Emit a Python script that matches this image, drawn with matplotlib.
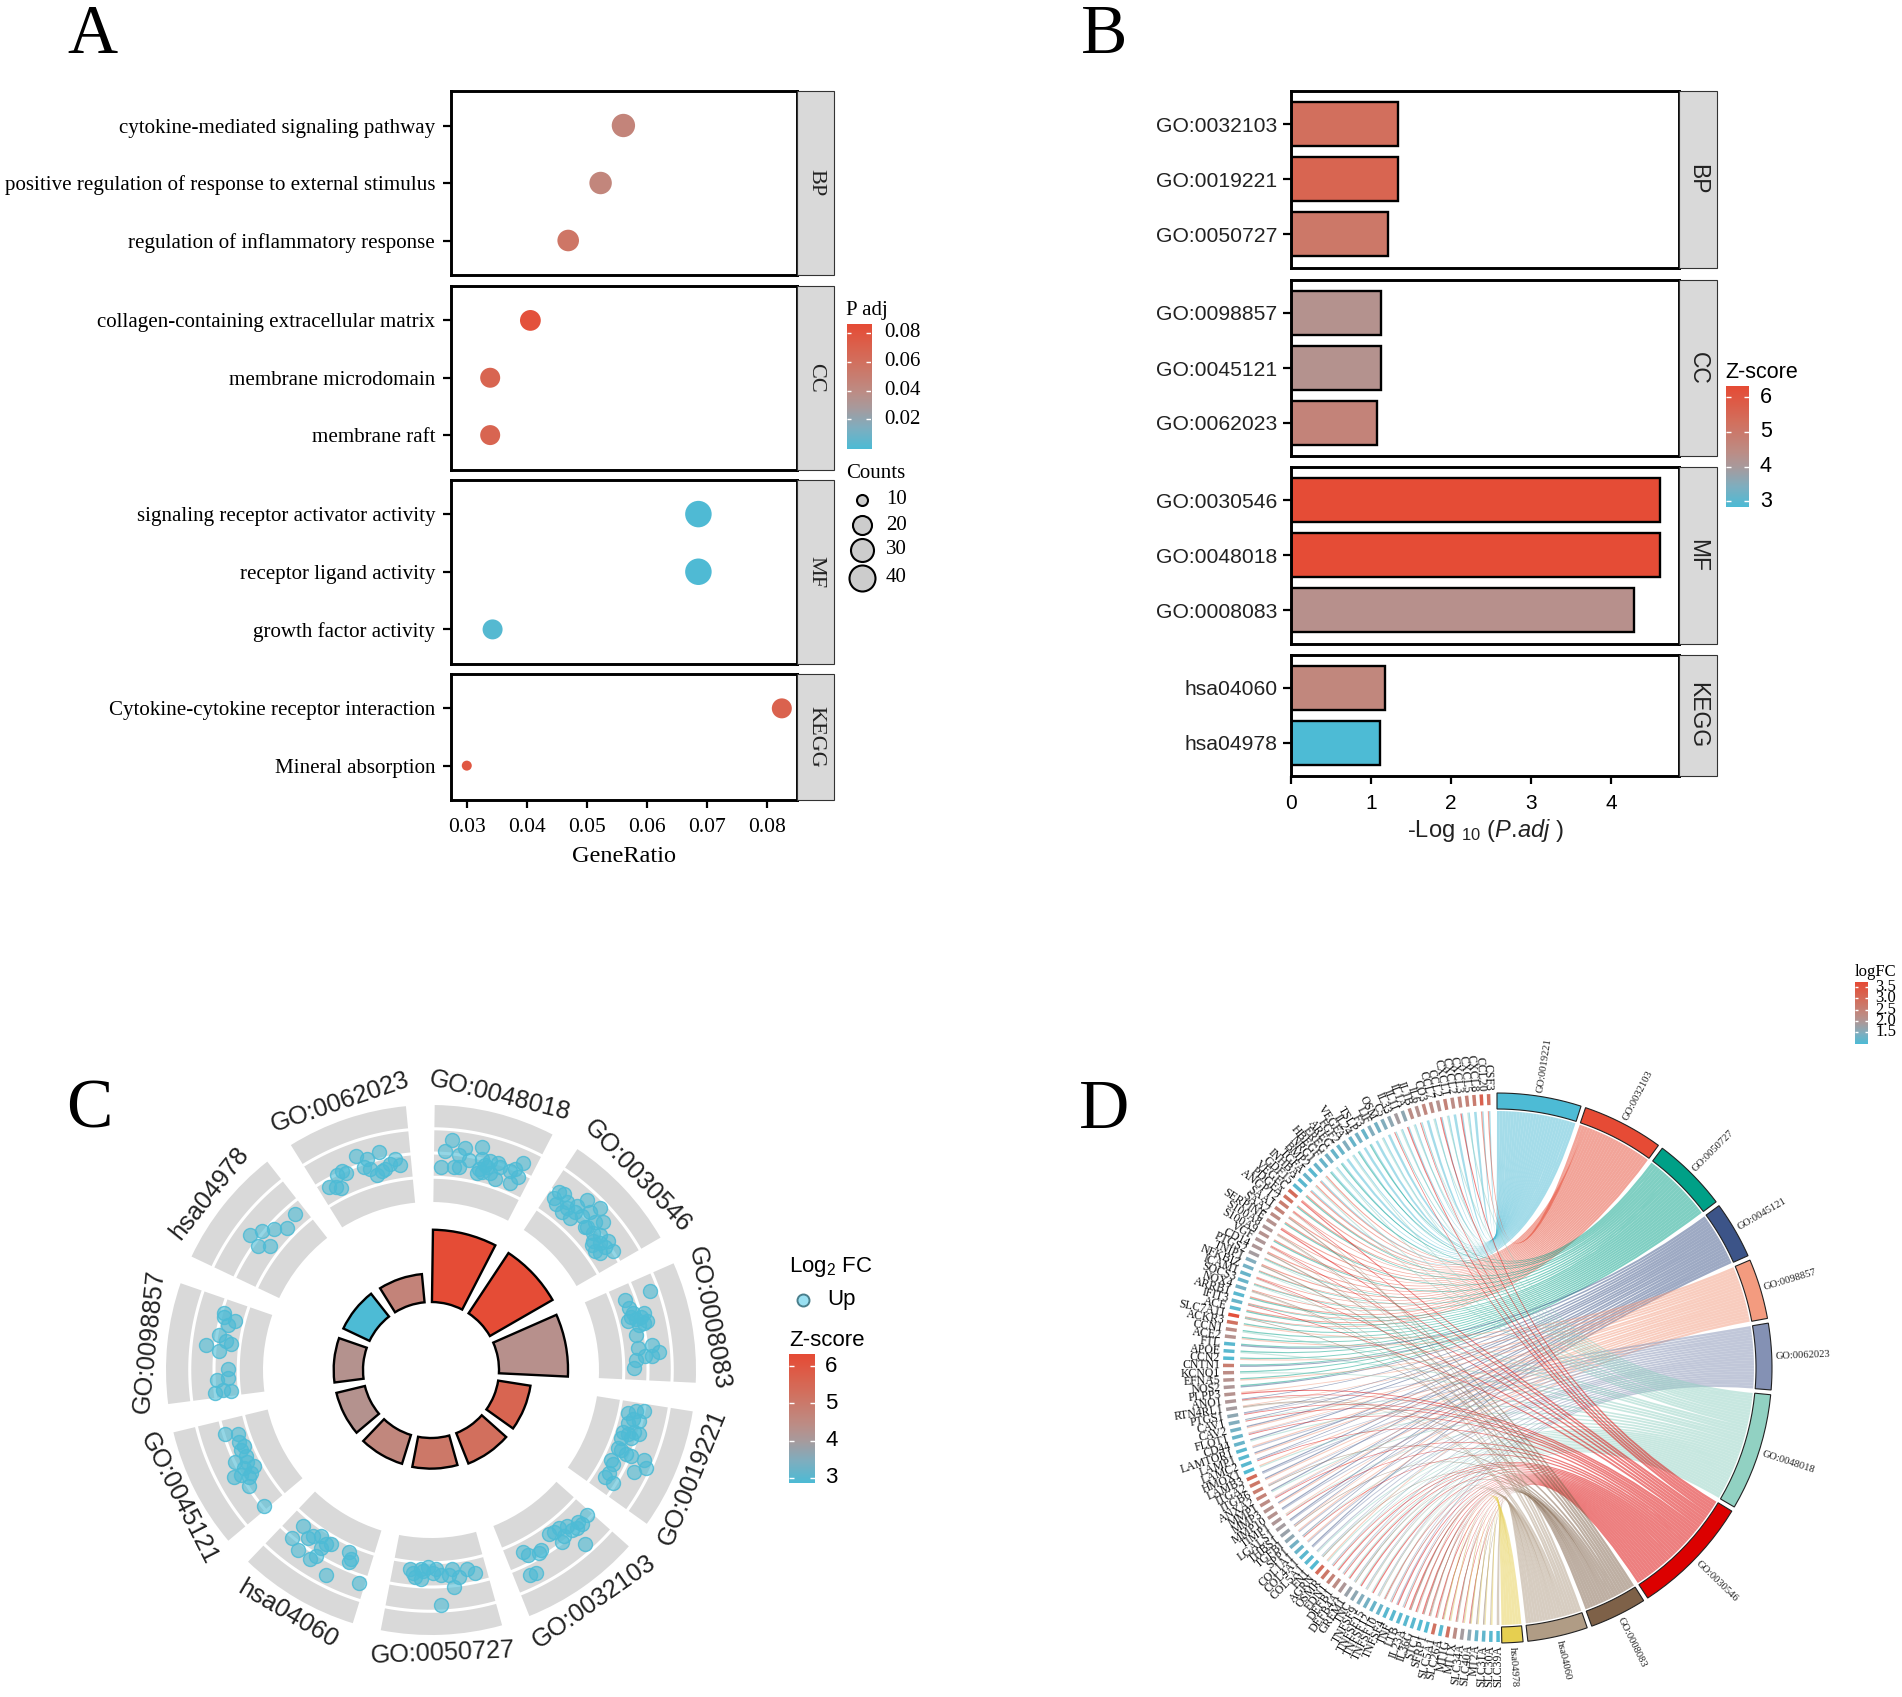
import numpy as np
import matplotlib
matplotlib.use("Agg")
import matplotlib.pyplot as plt
from matplotlib.colors import LinearSegmentedColormap
from matplotlib.patches import Rectangle, Polygon, PathPatch
from matplotlib.path import Path

W, H = 1902, 1697
SERIF = "Liberation Serif"
SANS = "Liberation Sans"

plt.rcParams["font.family"] = [SANS, "DejaVu Sans"]
plt.rcParams["mathtext.fontset"] = "custom"
plt.rcParams["mathtext.rm"] = SANS
plt.rcParams["mathtext.it"] = SANS + ":italic"
plt.rcParams["mathtext.default"] = "regular"

# panel A
a_facets = ["BP", "CC", "MF", "KEGG"]
a_terms = [
    ["cytokine-mediated signaling pathway", "positive regulation of response to external stimulus",
     "regulation of inflammatory response"],
    ["collagen-containing extracellular matrix", "membrane microdomain", "membrane raft"],
    ["signaling receptor activator activity", "receptor ligand activity", "growth factor activity"],
    ["Cytokine-cytokine receptor interaction", "Mineral absorption"],
]
a_ratio = [[0.0561, 0.0523, 0.0469], [0.0406, 0.0339, 0.0339], [0.0686, 0.0686, 0.0343], [0.0825, 0.0300]]
a_padj = [[0.045, 0.044, 0.056], [0.082, 0.068, 0.068], [0.0003, 0.0003, 0.002], [0.070, 0.078]]
a_count = [[33, 31, 28], [24, 20, 20], [40, 40, 20], [20, 7]]
a_xticks = [0.03, 0.04, 0.05, 0.06, 0.07, 0.08]

# panel B
b_ids = [["GO:0032103", "GO:0019221", "GO:0050727"], ["GO:0098857", "GO:0045121", "GO:0062023"],
         ["GO:0030546", "GO:0048018", "GO:0008083"], ["hsa04060", "hsa04978"]]
b_logp = [[1.34, 1.34, 1.21], [1.13, 1.13, 1.07], [4.61, 4.61, 4.29], [1.18, 1.11]]
b_z = [[5.3, 5.6, 5.05], [4.25, 4.25, 4.7], [6.3, 6.3, 4.3], [4.6, 2.83]]

# panel C, clockwise from the top
c_terms = ["GO:0048018", "GO:0030546", "GO:0008083", "GO:0019221", "GO:0032103", "GO:0050727",
           "hsa04060", "GO:0045121", "GO:0098857", "hsa04978", "GO:0062023"]
c_logp = [4.61, 4.61, 4.29, 1.34, 1.34, 1.21, 1.18, 1.13, 1.13, 1.11, 1.07]
c_z = [6.3, 6.3, 4.3, 5.6, 5.3, 5.05, 4.6, 4.25, 4.25, 2.83, 4.7]
c_theta = [
    [5.1, 3.6, 8.7, 12.9, 2.8, 6.5, 7.9, 10.4, 13.6, 15.8, 17.9, 13.4, 14.5, 16.7, 18.5, 23, 24.3, 24, 22.8, 21.8,
     14.7, 13.1, 18.8, 15.5, 7.4],
    [35.7, 35.6, 37, 37, 39, 39.7, 42.3, 42.3, 42.5, 46.2, 45.2, 44.4, 48, 49.4, 49.7, 47, 51.4, 53, 53.9, 54, 56.8,
     51.4, 41.7, 40, 47.4, 55.3, 54.7, 52.3],
    [70.2, 70.2, 72.7, 75.2, 75, 76, 76, 77.6, 77.8, 80.3, 83.8, 83.5, 86.2, 85.6, 86.4, 87.2, 89.4, 75.8, 77.2, 74.2],
    [100.9, 101.3, 102.3, 103.6, 105, 103.8, 107.8, 106.9, 107, 107.9, 109.6, 112.6, 113.3, 113.3, 112.9, 114.5,
     116.8, 116.6, 120, 121.8, 112.8, 108.7, 117.3, 121.5],
    [132.9, 135.6, 136, 139, 141, 144.3, 138.6, 141.3, 138.5, 149.5, 153.2, 152.2, 148.6, 152.7, 154.2, 142.7, 137.3,
     142.8],
    [185.9, 184.3, 182.8, 180.8, 179.3, 177.2, 174.1, 172.3, 169.8, 167.9, 174, 177.5, 182.2, 185, 178.6, 175, 182.9],
    [219.4, 219.5, 216.5, 215.4, 213.5, 209.9, 211.7, 211.7, 212.6, 204.2, 202.9, 203, 207.2, 198.7, 216.2, 211.1],
    [252.9, 251.7, 247.9, 249.4, 244.8, 245, 241.5, 242.3, 241.6, 239.6, 237.5, 230.8, 247.2, 240.3, 241.2, 243.5],
    [285.3, 284.3, 284, 282.5, 276.3, 279.4, 278, 277.4, 275, 270.3, 267.7, 267.3, 264, 264.4, 264.1],
    [319, 314.6, 312.1, 309.5, 306.8, 307.6, 305.5],
    [330.9, 332.5, 336, 334.3, 333.8, 340.8, 343.1, 341.8, 346.5, 343, 344.6, 346.2, 348.7, 351.5, 350.3, 347.1,
     336.7],
]
c_logfc = [
    [2.31, 2.19, 2.25, 2.29, 2.03, 2.04, 2.05, 2.13, 2.17, 2.17, 2.18, 2.07, 2.04, 2.06, 2.01, 2.03, 2.12, 2.27, 2.18,
     2.14, 2.12, 2.02, 2.14, 2.11, 2.17],
    [2.19, 2.12, 2.21, 2.08, 2.16, 2.05, 2.06, 2.14, 2.31, 2.34, 2.24, 2.16, 2.21, 2.27, 2.12, 2.10, 2.07, 2.11, 2.19,
     2.03, 2.18, 2.16, 2.20, 2.12, 2.12, 2.06, 2.13, 2.04],
    [2.33, 2.06, 2.07, 2.07, 2.20, 2.11, 2.03, 2.18, 2.13, 2.08, 2.08, 2.22, 2.14, 2.29, 2.21, 2.05, 2.03, 2.17, 2.21,
     2.10],
    [2.17, 2.09, 2.02, 2.08, 2.04, 2.14, 2.02, 2.12, 2.18, 2.07, 2.02, 2.03, 2.12, 2.18, 2.31, 2.36, 2.27, 2.01, 2.05,
     2.14, 2.06, 2.11, 2.05, 2.04],
    [2.13, 2.16, 2.11, 2.07, 2.03, 2.02, 2.13, 2.13, 2.32, 2.12, 2.04, 2.09, 2.11, 2.29, 2.28, 2.16, 2.15, 2.03],
    [2.00, 2.08, 2.09, 1.97, 2.03, 2.05, 2.00, 2.09, 2.02, 2.08, 2.18, 2.35, 2.01, 2.04, 1.99, 2.06, 1.99],
    [2.02, 2.18, 2.24, 2.04, 1.99, 2.01, 2.09, 2.19, 2.24, 2.00, 2.05, 2.09, 2.30, 2.25, 2.08, 2.03],
    [2.16, 2.03, 2.02, 2.05, 2.17, 2.04, 2.01, 2.11, 2.24, 2.11, 2.16, 2.15, 2.06, 2.07, 2.17, 2.06],
    [2.15, 2.14, 2.02, 2.08, 2.26, 2.15, 2.07, 2.02, 2.13, 2.03, 2.03, 2.14, 2.17, 2.09, 2.01],
    [2.07, 2.02, 2.11, 2.19, 2.26, 2.03, 2.13],
    [2.09, 2.06, 2.18, 2.16, 2.03, 2.27, 2.21, 2.14, 2.24, 2.10, 2.02, 2.05, 2.10, 2.07, 2.14, 2.06, 2.14],
]

# panel D, clockwise from the top
d_terms = ["GO:0019221", "GO:0032103", "GO:0050727", "GO:0045121", "GO:0098857", "GO:0062023",
           "GO:0048018", "GO:0030546", "GO:0008083", "hsa04060", "hsa04978"]
d_colors = ["#4DBBD5", "#E64B35", "#00A087", "#3C5488", "#F39B7F", "#8491B4",
            "#91D1C2", "#DC0000", "#7E6148", "#B09C85", "#E6CF50"]
# one string per gene, letters index d_terms, top of the circle going counter-clockwise
d_links = [
    "ab", "ab", "a", "ag", "ah", "a", "ag", "ah", "ag", "a", "agh", "ag", "ah", "ag", "agh", "a",
    "ag", "a", "ac", "a", "ac", "ag", "a", "ac", "ag", "ac", "bg", "ab", "bg", "ab", "bc",
    "bh", "bc", "bhj", "bi", "bc", "bh", "bij", "bc", "bhj", "bi", "bcg", "bi", "bcg", "bhj", "bcg", "bij", "bc",
    "bch", "bc", "bci",
    "ce", "cg", "ce", "cd", "cg", "ce", "cd", "cg", "ce", "cd", "eh", "dhj", "eij", "dfh", "dgh",
    "de", "efh", "dg", "ef", "de", "dfh", "eg", "df", "de", "efi", "dg", "efh", "de", "df", "egh", "df", "dei", "ef",
    "dgh", "ef",
    "df", "fg", "fgi", "eg", "fgh", "gh", "fgh", "gh", "fgi", "gh", "fgj", "gh", "fgj", "ghj",
    "fgh", "fh", "fgh", "hi", "hj", "hi", "hij", "hj", "hik", "hjk", "hij", "hjk", "hik", "ijk", "ijk", "jk", "j",
]
d_logfc = [
    2.9, 3.2, 2.7, 2.6, 2.5, 2.4, 2.6, 2.3, 2.4, 2.5, 2.3, 2.4,
    1.9, 2.1, 1.9, 1.8, 1.7, 1.8, 1.6, 1.7, 1.6, 1.8, 1.6, 1.6, 1.7, 1.6, 1.6, 1.5, 1.6, 1.5, 1.5,
    3.0, 2.9, 2.7, 2.6, 2.4, 2.3, 2.2, 2.3, 2.2, 2.2, 2.1,
    1.8, 1.7, 1.6, 1.6, 1.7, 1.5, 1.6, 1.5,
    3.5, 2.9, 2.4, 2.3, 1.5, 1.5, 1.45, 2.7, 2.4, 2.3, 2.2, 2.3, 2.2, 2.1,
    1.9, 1.8, 1.7, 1.6, 1.6, 1.5, 1.5, 1.5, 1.45,
    3.0, 2.8, 2.7, 2.6, 2.4, 2.3, 2.3, 2.2, 2.1, 2.0, 1.9,
    1.7, 1.6, 1.5, 1.5, 1.45, 3.0, 2.8, 2.6, 2.4, 2.2, 2.0, 1.9, 1.8, 1.7,
    1.6, 1.6, 1.5, 1.5, 1.5, 1.5, 1.5, 1.45, 1.45, 2.9, 1.5, 2.9, 2.4, 2.1, 1.9, 1.6, 1.55, 1.5, 1.45,
]
# names are mostly too blurred to read, so these are best guesses
d_genes = [
    "CSF3", "CCL20", "CXCL8", "CXCL5", "CXCL3", "CXCL2", "CXCL1", "CCL2", "CCL7", "CO3", "IL6", "IL1B", "IL1A",
    "IL11", "IL33", "C5", "OSM", "LIF", "F3", "TSLP", "IL24", "VEGFA", "FGF2", "AREG", "EREG",
    "HBEGF", "NRG1", "BMP2", "TGFA", "INHBA", "GDF15", "VEGFC", "PDGFA", "ANGPT2", "SAA1", "SAA2",
    "SERPINE", "S100A8", "S100A9", "VGF", "CD14", "PTGS2", "TNIP1", "NFKBIZ", "ICAM1", "SOCS3",
    "NOX4", "ARRB1", "IFIT3", "ACE", "SLC7A11", "ACKR3", "CCN1", "ACE2", "FTL", "APOE", "CCN2",
    "CNTN1", "KCNQ1", "EFNA5", "NOS2", "PLPP3", "ANO1", "RTN4RL1", "PTGS1", "CAV1", "CAV2", "FLOT1",
    "CD44", "LAMTOR1", "LAMP1", "LAMC2", "HMOX1", "LAMB3", "ITGA2", "ITGB6", "ANXA2", "MMP1", "MMP3",
    "MMP10", "TIMP1", "LGALS1", "THBS1", "TGFBI", "SPP1", "COL1A1", "COL4A1", "COL5A1", "FN1", "AGRN",
    "OSMR", "EDN1", "DEFB1", "DEFB4A", "GREM1", "TNC", "TNFSF9", "TNFSF15", "TNFSF12", "TNFSF10",
    "TNFSF4", "TNF", "LTB", "IL23A", "IL36G", "STC1", "SFRP1", "SLC5A1", "SLC26A", "MT1G",
    "MT1X", "SLC34A", "SLC40A", "MT2A", "SLC31A", "SLC30A", "SLC39A",
]
d_cbar_ticks = [3.5, 3.0, 2.5, 2.0, 1.5]

npg = LinearSegmentedColormap.from_list("npg", [
    (0.0, "#4DBBD5"), (0.17, "#7FAEBF"), (0.33, "#A89A9C"), (0.45, "#BC8D86"), (0.7, "#D2705E"), (1.0, "#E64B35")])

fig = plt.figure(figsize=(W / 100, H / 100), dpi=100, facecolor="white")


def box(x0, y0, x1, y1):
    return [x0 / W, 1 - y1 / H, (x1 - x0) / W, (y1 - y0) / H]


ov = fig.add_axes([0, 0, 1, 1], zorder=5)
ov.set_xlim(0, W)
ov.set_ylim(H, 0)
ov.axis("off")


def px_size(d):
    return (d * 0.72) ** 2


def colorbar(x0, y0, x1, y1, low, high, ticks, labels, label_x, family, size):
    cax = fig.add_axes(box(x0, y0, x1, y1))
    cax.imshow(np.linspace(1, 0, 256)[:, None], cmap=npg, aspect="auto", extent=(0, 1, low, high), vmin=0, vmax=1)
    cax.hlines(ticks, 0, 0.2, color="white", lw=1)
    cax.hlines(ticks, 0.8, 1, color="white", lw=1)
    cax.axis("off")
    for t, lab in zip(ticks, labels):
        py = y1 - (t - low) / (high - low) * (y1 - y0)
        ov.text(label_x, py, lab, family=family, fontsize=size, va="center", ha="left")


def facet_axes(x0, x1, strip_x, y0, y1, name, family, size):
    ax = fig.add_axes(box(x0, y0, x1, y1))
    for s in ax.spines.values():
        s.set_linewidth(2.1)
    ax.tick_params(axis="both", length=6, width=1.6)
    ov.add_patch(Rectangle((x1, y0), strip_x - x1, y1 - y0, fc="#D9D9D9", ec="#333333", lw=0.8))
    ov.text((x1 + strip_x) / 2, (y0 + y1) / 2, name, family=family, fontsize=size, rotation=-90,
            ha="center", va="center", color="#222222")
    return ax


# panel A
a_rows = [(91, 275), (286, 469.5), (479.5, 664), (674, 800)]
for f, (y0, y1) in enumerate(a_rows):
    ax = facet_axes(451, 797, 834, y0, y1, a_facets[f], SERIF, 16)
    ypos = np.arange(len(a_terms[f]))
    diam = np.interp(a_count[f], [7, 10, 20, 30, 40], [10, 12, 20, 22, 26.5])
    ax.scatter(a_ratio[f], ypos, s=px_size(diam), c=a_padj[f], cmap=npg, vmin=-0.0005, vmax=0.0862, lw=0, zorder=3)
    ax.set_xlim(0.02737, 0.08503)
    ax.set_ylim(len(ypos) - 0.4, -0.6)
    ax.set_yticks(ypos, a_terms[f], family=SERIF, fontsize=15.1)
    ax.tick_params(axis="y", pad=5.5)
    if f == 3:
        ax.set_xticks(a_xticks, [f"{v:.2f}" for v in a_xticks], family=SERIF, fontsize=15.5)
        ax.tick_params(axis="x", pad=7)
    else:
        ax.set_xticks([])
ov.text(624, 856, "GeneRatio", family=SERIF, fontsize=17.5, ha="center", va="center")
ov.text(846.5, 310, "P adj", family=SERIF, fontsize=15, va="center")
colorbar(846.5, 324, 871, 449, -0.0005, 0.0862, [0.08, 0.06, 0.04, 0.02], ["0.08", "0.06", "0.04", "0.02"],
         884, SERIF, 15)
ov.text(846.5, 473, "Counts", family=SERIF, fontsize=15, va="center")
legend_counts = [10, 20, 30, 40]
for c, yy, d in zip(legend_counts, [500, 525, 550, 578], [11, 19, 23, 26]):
    ov.scatter([862], [yy], s=px_size(d), fc="#CCCCCC", ec="black", lw=1.5)
    ov.text(886, yy, str(c), family=SERIF, fontsize=15, va="center")

# panel B
b_rows = [(91, 267.5), (280, 456), (467, 643.5), (654.5, 776)]
for f, (y0, y1) in enumerate(b_rows):
    ax = facet_axes(1291, 1679, 1717, y0, y1, a_facets[f], SANS, 16.5)
    ypos = np.arange(len(b_ids[f]))
    ax.barh(ypos, b_logp[f], height=0.8, color=[npg((z - 2.83) / 3.5) for z in b_z[f]], edgecolor="black", lw=1.7)
    ax.set_xlim(0, 4.85)
    ax.set_ylim(len(ypos) - 0.4, -0.6)
    ax.set_yticks(ypos, b_ids[f], fontsize=15.2)
    ax.tick_params(axis="y", pad=3.8, labelcolor="#222222")
    if f == 3:
        ax.set_xticks([0, 1, 2, 3, 4], ["0", "1", "2", "3", "4"], fontsize=15)
        ax.tick_params(axis="x", pad=7)
    else:
        ax.set_xticks([])
ov.text(1486, 831, r"-Log $_{10}$ ($\mathit{P.\!adj}$ )", fontsize=17, ha="center", va="center", color="#222222")
ov.text(1731 - 5.5, 372, "Z-score", fontsize=15.5, va="center")
colorbar(1726, 386, 1748.8, 507, 2.83, 6.33, [6, 5, 4, 3], ["6", "5", "4", "3"], 1760, SANS, 15.5)

# panel C
START, SPAN, STEP = 0.8, 26.5, 360 / 11
pol = fig.add_axes(box(131, 1070, 731, 1670), projection="polar")
pol.set_theta_zero_location("N")
pol.set_theta_direction(-1)
pol.set_ylim(0, 3)
pol.set_axis_off()
for k, term in enumerate(c_terms):
    t0 = START + k * STEP
    mid = np.radians(t0 + SPAN / 2)
    pol.bar(mid, 0.97, width=np.radians(SPAN), bottom=1.68, color="#D9D9D9", lw=0)
    arc = np.radians(np.linspace(t0, t0 + SPAN, 30))
    for rr in [1.9275, 2.17, 2.4125]:
        pol.plot(arc, np.full(30, rr), color="white", lw=2.2)
    pol.scatter(np.radians(c_theta[k]), c_logfc[k], s=px_size(14), fc=(0.302, 0.733, 0.835, 0.6),
                ec=(0.302, 0.733, 0.835, 0.85), lw=1, zorder=3)
    # bar heights follow a power scale of -log10 p
    pol.bar(mid, 0.271 * c_logp[k] ** 0.642, width=np.radians(SPAN), bottom=0.68,
            color=npg((c_z[k] - 2.83) / 3.5), edgecolor="black", lw=1.7)
    ang = t0 + SPAN / 2
    rot = -ang if ang < 90 or ang > 270 else 180 - ang
    pol.text(mid, 2.83, term, fontsize=18.2, rotation=rot, rotation_mode="anchor", ha="center", va="center",
             color="#222222")
ov.text(789, 1267, r"Log$_2$ FC", fontsize=16, va="center")
ov.scatter([803], [1300], s=px_size(12), fc=(0.6, 0.88, 0.95, 1), ec="#4A7F8C", lw=1.4)
ov.text(827, 1300, "Up", fontsize=16, va="center")
ov.text(789, 1340, "Z-score", fontsize=16, va="center")
colorbar(789, 1354, 815, 1483, 2.86, 6.33, [6, 5, 4, 3], ["6", "5", "4", "3"], 825, SANS, 16)

# panel D, angles in degrees clockwise from the top, one data unit is one pixel
chord = fig.add_axes(box(1167, 1038, 1827, 1698))
chord.set_xlim(-330, 330)
chord.set_ylim(-330, 330)
chord.axis("off")


def polar_xy(theta, r):
    t = np.radians(theta)
    return r * np.sin(t), r * np.cos(t)


def ring(t0, t1, r0, r1, **kw):
    th = np.linspace(t0, t1, 12)
    pts = [polar_xy(a, r1) for a in th] + [polar_xy(a, r0) for a in th[::-1]]
    chord.add_patch(Polygon(pts, closed=True, **kw))


RIB, GAP = 257, 1.0
n_genes = len(d_genes)
slot = 180.0 / n_genes
term_keys = "abcdefghijk"
counts = [sum(key in s for s in d_links) for key in term_keys]
per_link = (179.0 - GAP * 10) / sum(counts)

t = 0.0
for key, term, col, cnt in zip(term_keys, d_terms, d_colors, counts):
    width = cnt * per_link
    ring(t, t + width, 259, 275, fc=col, ec="#222222", lw=0.8)
    ang = t + width / 2
    chord.text(*polar_xy(ang, 279), term, family=SERIF, fontsize=7.6, rotation=90 - ang, rotation_mode="anchor",
               ha="left", va="center", color="#222222")
    tt = t
    for g, s in enumerate(d_links):
        if key not in s:
            continue
        centre = -1.0 - (g + 0.5) * slot
        part = 0.38 * slot / len(s)
        hi = centre + 0.19 * slot - s.index(key) * part
        lo = hi - part
        verts = [polar_xy(tt, RIB), (0, 0), polar_xy(hi, RIB), polar_xy(lo, RIB), (0, 0),
                 polar_xy(tt + per_link, RIB), polar_xy(tt, RIB)]
        codes = [Path.MOVETO, Path.CURVE3, Path.CURVE3, Path.LINETO, Path.CURVE3, Path.CURVE3, Path.CLOSEPOLY]
        chord.add_patch(PathPatch(Path(verts, codes), fc=col, ec="none", alpha=0.5))
        tt += per_link
    t += width + GAP

for g, (name, fc) in enumerate(zip(d_genes, d_logfc)):
    centre = -1.0 - (g + 0.5) * slot
    ring(centre - 0.24 * slot, centre + 0.24 * slot, 263, 274, fc=npg((fc - 1.4) / 2.2), ec="none")
    chord.text(*polar_xy(centre, 277), name, family=SERIF, fontsize=8.5, rotation=-90 - centre,
               rotation_mode="anchor", ha="right", va="center", color="#111111")

ov.text(1855, 972, "logFC", family=SERIF, fontsize=12, va="center", clip_on=True)
colorbar(1855, 982, 1868, 1044, 0.97, 3.72, d_cbar_ticks, [f"{v:.1f}" for v in d_cbar_ticks], 1875, SERIF, 12)

# panel letters
for letter, x, y in [("A", 92, 36), ("B", 1104, 36), ("C", 89, 1111), ("D", 1104, 1111)]:
    ov.text(x, y, letter, family=SERIF, fontsize=50, ha="center", va="center")

fig.savefig("out.png", dpi=100)
